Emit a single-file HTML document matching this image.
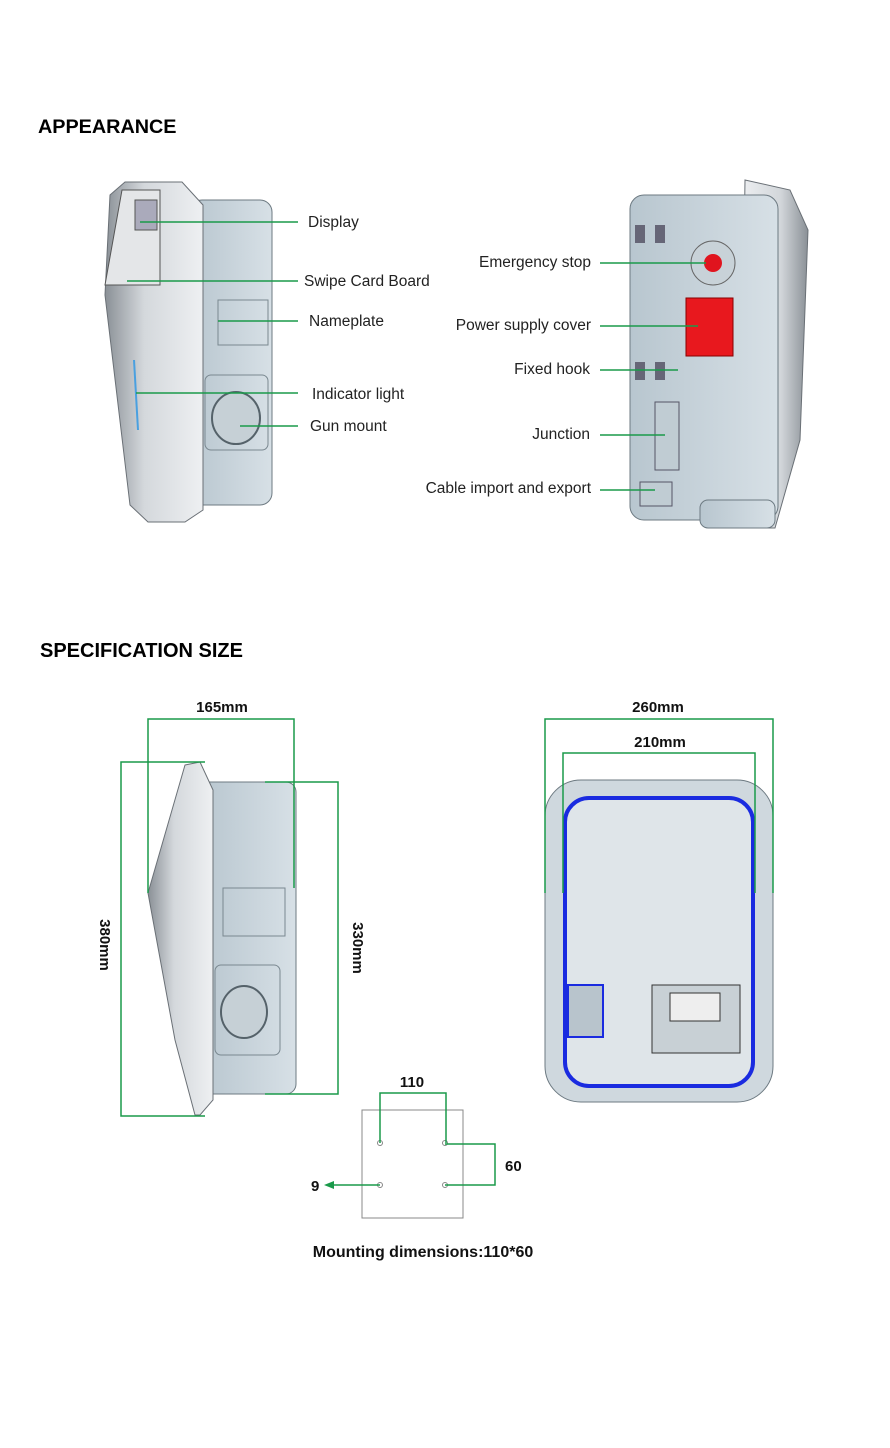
<!DOCTYPE html>
<html><head><meta charset="utf-8"><style>
body{margin:0;background:#fff;}
svg{display:block;font-family:"Liberation Sans",Arial,sans-serif;}
</style></head><body>
<svg width="890" height="1448" viewBox="0 0 890 1448">
<defs>
<linearGradient id="g1" x1="0" x2="1"><stop offset="0" stop-color="#8a9096"/><stop offset="0.4" stop-color="#d4d8dc"/><stop offset="1" stop-color="#eef0f2"/></linearGradient>
<linearGradient id="g2" x1="0" x2="1"><stop offset="0" stop-color="#b8c6cf"/><stop offset="1" stop-color="#d7e0e6"/></linearGradient>
<linearGradient id="g3" x1="0" x2="1"><stop offset="0" stop-color="#eef0f2"/><stop offset="0.6" stop-color="#d2d6da"/><stop offset="1" stop-color="#8a9096"/></linearGradient>
</defs>
<text x="38" y="133" font-size="19.8" font-weight="bold">APPEARANCE</text>
<rect x="190" y="200" width="82" height="305" rx="12" fill="url(#g2)" stroke="#6d7a82"/>
<rect x="218" y="300" width="50" height="45" fill="none" stroke="#7a8890"/>
<rect x="205" y="375" width="63" height="75" rx="6" fill="none" stroke="#7a8890"/>
<ellipse cx="236" cy="418" rx="24" ry="26" fill="#c6d0d6" stroke="#55626a" stroke-width="2"/>
<polygon points="125,182 182,182 203,205 203,510 185,522 148,522 130,505 105,295 110,195" fill="url(#g1)" stroke="#6a7076"/>
<polygon points="122,190 160,190 160,285 105,285" fill="#e4e6e8" stroke="#555"/>
<rect x="135" y="200" width="22" height="30" fill="#aab" stroke="#555"/>
<line x1="134" y1="360" x2="138" y2="430" stroke="#4aa0e0" stroke-width="2"/>
<g stroke="#1a9a4a" stroke-width="1.5">
<line x1="140" y1="222" x2="298" y2="222"/><line x1="127" y1="281" x2="298" y2="281"/>
<line x1="218" y1="321" x2="298" y2="321"/><line x1="136" y1="393" x2="298" y2="393"/>
<line x1="240" y1="426" x2="298" y2="426"/>
</g>
<g font-size="15.5" fill="#222">
<text x="308" y="227">Display</text><text x="304" y="286">Swipe Card Board</text>
<text x="309" y="326">Nameplate</text><text x="312" y="399">Indicator light</text>
<text x="310" y="431">Gun mount</text>
</g>
<polygon points="745,180 790,190 808,230 800,440 775,528 740,528" fill="url(#g3)" stroke="#6a7076"/>
<rect x="630" y="195" width="148" height="325" rx="14" fill="url(#g2)" stroke="#6d7a82"/>
<rect x="700" y="500" width="75" height="28" rx="8" fill="url(#g2)" stroke="#6d7a82"/>
<circle cx="713" cy="263" r="22" fill="#c8d2d8" stroke="#666"/>
<circle cx="713" cy="263" r="9" fill="#e0141e"/>
<rect x="686" y="298" width="47" height="58" fill="#e8181e" stroke="#800"/>
<rect x="655" y="402" width="24" height="68" fill="#c0ccd3" stroke="#556"/>
<rect x="640" y="482" width="32" height="24" fill="#c0ccd3" stroke="#556"/>
<g fill="#667"><rect x="635" y="225" width="10" height="18"/><rect x="655" y="225" width="10" height="18"/><rect x="635" y="362" width="10" height="18"/><rect x="655" y="362" width="10" height="18"/></g>
<g stroke="#1a9a4a" stroke-width="1.5">
<line x1="600" y1="263" x2="706" y2="263"/><line x1="600" y1="326" x2="698" y2="326"/>
<line x1="600" y1="370" x2="678" y2="370"/><line x1="600" y1="435" x2="665" y2="435"/>
<line x1="600" y1="490" x2="655" y2="490"/>
</g>
<g font-size="15.5" fill="#222" text-anchor="end">
<text x="591" y="267">Emergency stop</text><text x="591" y="330">Power supply cover</text>
<text x="590" y="374">Fixed hook</text><text x="590" y="439">Junction</text>
<text x="591" y="493">Cable import and export</text>
</g>
<text x="40" y="657" font-size="20" font-weight="bold">SPECIFICATION SIZE</text>
<rect x="200" y="782" width="96" height="312" rx="10" fill="url(#g2)" stroke="#6d7a82"/>
<rect x="223" y="888" width="62" height="48" fill="none" stroke="#7a8890"/>
<rect x="215" y="965" width="65" height="90" rx="6" fill="none" stroke="#7a8890"/>
<ellipse cx="244" cy="1012" rx="23" ry="26" fill="#c6d0d6" stroke="#55626a" stroke-width="2"/>
<polygon points="185,765 200,762 213,790 213,1100 200,1115 195,1115 175,1040 148,893" fill="url(#g1)" stroke="#6a7076"/>
<g stroke="#1a9a4a" stroke-width="1.5" fill="none">
<polyline points="148,893 148,719 294,719 294,888"/>
<polyline points="205,762 121,762 121,1116 205,1116"/>
<polyline points="265,782 338,782 338,1094 265,1094"/>
</g>
<g font-size="15" font-weight="bold" fill="#111">
<text x="222" y="712" text-anchor="middle">165mm</text>
<text transform="translate(100,945) rotate(90)" text-anchor="middle">380mm</text>
<text transform="translate(353,948) rotate(90)" text-anchor="middle">330mm</text>
</g>
<rect x="545" y="780" width="228" height="322" rx="36" fill="#cfd8de" stroke="#6d7a82"/>
<rect x="565" y="798" width="188" height="288" rx="24" fill="#dfe5e9" stroke="#1a2be0" stroke-width="4"/>
<rect x="652" y="985" width="88" height="68" fill="#c8d0d5" stroke="#333"/>
<rect x="670" y="993" width="50" height="28" fill="#eee" stroke="#333"/>
<rect x="568" y="985" width="35" height="52" fill="#b8c4cc" stroke="#1a2be0" stroke-width="2"/>
<g stroke="#1a9a4a" stroke-width="1.5" fill="none">
<polyline points="545,893 545,719 773,719 773,893"/>
<polyline points="563,893 563,753 755,753 755,893"/>
</g>
<g font-size="15" font-weight="bold" fill="#111" text-anchor="middle">
<text x="658" y="712">260mm</text><text x="660" y="747">210mm</text>
</g>
<rect x="362" y="1110" width="101" height="108" fill="#fff" stroke="#888"/>
<g fill="none" stroke="#888"><circle cx="380" cy="1143" r="2.5"/><circle cx="445" cy="1143" r="2.5"/><circle cx="380" cy="1185" r="2.5"/><circle cx="445" cy="1185" r="2.5"/></g>
<g stroke="#1a9a4a" stroke-width="1.5" fill="none">
<polyline points="380,1143 380,1093 446,1093 446,1143"/>
<polyline points="445,1144 495,1144 495,1185 445,1185"/>
<line x1="380" y1="1185" x2="330" y2="1185"/>
</g>
<polygon points="324,1185 334,1181 334,1189" fill="#1a9a4a"/>
<g font-size="15" font-weight="bold" fill="#111">
<text x="412" y="1087" text-anchor="middle">110</text>
<text x="505" y="1171">60</text><text x="311" y="1191">9</text>
<text x="423" y="1257" font-size="16" text-anchor="middle">Mounting dimensions:110*60</text>
</g>
</svg>
</body></html>
